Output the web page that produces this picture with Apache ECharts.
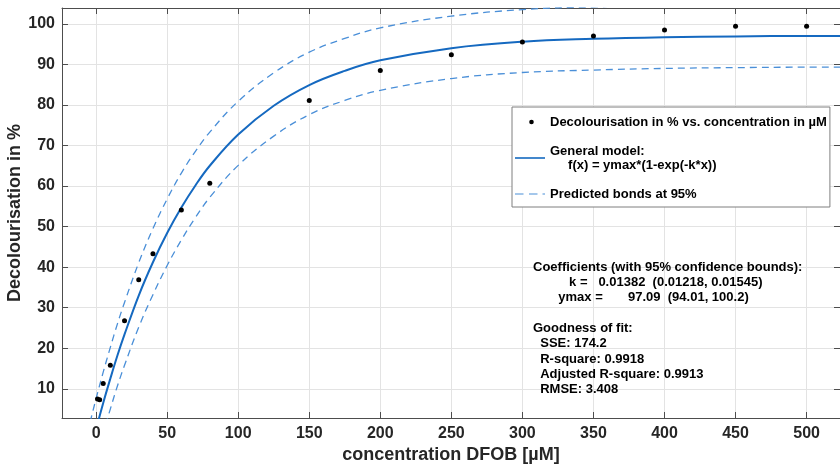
<!DOCTYPE html>
<html>
<head>
<meta charset="utf-8">
<script src="https://cdn.jsdelivr.net/npm/echarts@6.0.0/dist/echarts.min.js"></script>
<style>
  html, body { margin: 0; padding: 0; background: #fff; }
  .chart { width: 840px; height: 466px; }
</style>
</head>
<body>
<div class="chart"></div>
<script>
// measured points
var xConc = [1, 2.5, 5, 10, 20, 30, 40, 60, 80, 150, 200, 250, 300, 350, 400, 450, 500];
var yDecol = [7.5, 7.3, 11.3, 15.8, 26.8, 36.9, 43.3, 54.1, 60.7, 81.1, 88.5, 92.4, 95.5, 97.0, 98.5, 99.4, 99.4];

// fitted curve and prediction bounds
var xFit = [-10, -5, 0, 5, 10, 15, 20, 30, 40, 50, 60, 70, 80, 100, 125, 150, 175, 200, 250, 300, 350, 400, 450, 500, 524];
var yFit = [-14.4, -7.0, 0, 6.5, 12.5, 18.2, 23.4, 33.0, 41.2, 48.4, 54.7, 60.2, 65.0, 72.7, 79.8, 84.9, 88.4, 91.0, 94.0, 95.6, 96.3, 96.7, 96.9, 97.0, 97.0];
var yUpper = [-6.9, 0.6, 7.6, 14.1, 20.2, 26.0, 31.3, 41.1, 49.5, 56.8, 63.2, 68.6, 73.3, 80.9, 87.9, 93.0, 96.4, 99.0, 101.9, 103.5, 104.2, 104.6, 104.8, 104.9, 104.9];
var yLower = [-21.8, -14.4, -7.4, -0.9, 5.0, 10.7, 15.8, 25.2, 33.2, 40.4, 46.7, 52.3, 57.2, 65.1, 72.3, 77.6, 81.1, 83.6, 86.5, 88.0, 88.6, 89.0, 89.2, 89.3, 89.3];

var nameData = 'Decolourisation in % vs. concentration in \u00b5M';
var nameFit = 'General model';
var nameBounds = 'Predicted bonds at 95%';

var statsText = [
    'Coefficients (with 95% confidence bounds):',
    '          k =   0.01382  (0.01218, 0.01545)',
    '       ymax =       97.09  (94.01, 100.2)',
    '',
    'Goodness of fit:',
    '  SSE: 174.2',
    '  R-square: 0.9918',
    '  Adjusted R-square: 0.9913',
    '  RMSE: 3.408'
].join('\n');

function pairs(xs, ys) {
    return xs.map(function (x, i) { return [x, ys[i]]; });
}

var FONT = '"Liberation Sans", Arial, sans-serif';
var AXIS_COLOR = '#4d4d4d';
var TEXT_COLOR = '#262626';
var FIT_COLOR = '#1569c0';
var BOUND_COLOR = '#4a8fd8';

var myChart = echarts.init(document.querySelector('.chart'));

var baseX = {
    type: 'value', min: -24, max: 523.5, splitNumber: 10,
    axisLine: { show: true, onZero: false, lineStyle: { color: AXIS_COLOR, width: 1 } },
    axisTick: { show: true, inside: true, length: 6, lineStyle: { color: AXIS_COLOR } }
};
var baseY = {
    type: 'value', min: 2.8, max: 103.9, splitNumber: 10,
    axisLine: { show: true, onZero: false, lineStyle: { color: AXIS_COLOR, width: 1 } },
    axisTick: { show: true, inside: true, length: 6, lineStyle: { color: AXIS_COLOR } }
};

var option = {
    animation: false,
    backgroundColor: '#fff',
    grid: { left: 62, top: 8, right: 0, bottom: 48, containLabel: false, outerBoundsMode: 'none' },
    xAxis: [
        Object.assign({}, baseX, {
            position: 'bottom',
            name: 'concentration DFOB [\u00b5M]',
            nameLocation: 'middle',
            nameGap: 28,
            nameMoveOverlap: false,
            nameTextStyle: { fontFamily: FONT, fontWeight: 'bold', fontSize: 18, color: TEXT_COLOR },
            axisLabel: {
                margin: 8, fontFamily: FONT, fontWeight: 'bold', fontSize: 16, color: TEXT_COLOR,
                showMinLabel: false, showMaxLabel: false,
                formatter: function (v) { return (Math.abs(v % 50) < 1e-6) ? String(v) : ''; }
            },
            splitLine: { show: true, lineStyle: { color: '#e3e3e3', width: 1 } }
        }),
        Object.assign({}, baseX, {
            position: 'top',
            axisLabel: { show: false },
            splitLine: { show: false }
        })
    ],
    yAxis: [
        Object.assign({}, baseY, {
            position: 'left',
            name: 'Decolourisation in %',
            nameLocation: 'middle',
            nameGap: 38,
            nameMoveOverlap: false,
            nameTextStyle: { fontFamily: FONT, fontWeight: 'bold', fontSize: 18, color: TEXT_COLOR },
            axisLabel: {
                margin: 7, fontFamily: FONT, fontWeight: 'bold', fontSize: 16, color: TEXT_COLOR,
                showMinLabel: false, showMaxLabel: false,
                formatter: function (v) { return (Math.abs(v % 10) < 1e-6) ? String(v) : ''; }
            },
            splitLine: { show: true, lineStyle: { color: '#e3e3e3', width: 1 } }
        }),
        Object.assign({}, baseY, {
            position: 'right',
            axisLabel: { show: false },
            splitLine: { show: false }
        })
    ],
    legend: {
        orient: 'vertical',
        left: 512,
        top: 107,
        padding: [8, 3, 6, 3],
        itemGap: 15,
        itemWidth: 30,
        itemHeight: 14,
        backgroundColor: '#fff',
        borderColor: '#7f7f7f',
        borderWidth: 1,
        borderRadius: 0,
        selectedMode: false,
        textStyle: { fontFamily: FONT, fontWeight: 'bold', fontSize: 13, lineHeight: 14, color: '#000' },
        formatter: function (name) {
            if (name === nameFit) {
                return 'General model:\n     f(x) = ymax*(1-exp(-k*x))';
            }
            return name;
        },
        data: [
            { name: nameData, icon: 'path://M0,0M30,14M14.2,7A2.3,2.3,0,1,1,18.8,7A2.3,2.3,0,1,1,14.2,7Z' },
            { name: nameFit, icon: 'path://M0,0M30,14M0,6.2L30,6.2L30,7.8L0,7.8Z' },
            { name: nameBounds, icon: 'path://M0,0M30,14M0,6.4L8.5,6.4L8.5,7.6L0,7.6Z M14,6.4L22.5,6.4L22.5,7.6L14,7.6Z M27.5,6.4L30,6.4L30,7.6L27.5,7.6Z' }
        ]
    },
    graphic: [{
        type: 'text',
        left: 533,
        top: 259.5,
        z: 100,
        style: {
            text: statsText,
            fontFamily: FONT,
            fontWeight: 'bold',
            fontSize: 13,
            lineHeight: 15.3,
            fill: '#000'
        }
    }],
    series: [
        {
            name: nameBounds, type: 'line', data: pairs(xFit, yUpper),
            smooth: 0.4, showSymbol: false, clip: true,
            itemStyle: { color: BOUND_COLOR },
            lineStyle: { color: BOUND_COLOR, width: 1.3, type: [7, 5] },
            z: 2
        },
        {
            name: nameBounds, type: 'line', data: pairs(xFit, yLower),
            smooth: 0.4, showSymbol: false, clip: true,
            itemStyle: { color: BOUND_COLOR },
            lineStyle: { color: BOUND_COLOR, width: 1.3, type: [7, 5] },
            z: 2
        },
        {
            name: nameFit, type: 'line', data: pairs(xFit, yFit),
            smooth: 0.4, showSymbol: false, clip: true,
            itemStyle: { color: FIT_COLOR },
            lineStyle: { color: FIT_COLOR, width: 2 },
            z: 3
        },
        {
            name: nameData, type: 'scatter', data: pairs(xConc, yDecol),
            symbol: 'circle', symbolSize: 5,
            itemStyle: { color: '#000', opacity: 1 },
            z: 4
        }
    ]
};

myChart.setOption(option);
</script>
</body>
</html>
